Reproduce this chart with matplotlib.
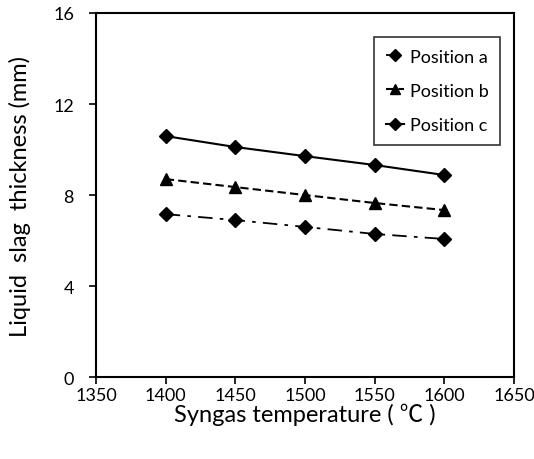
import matplotlib.pyplot as plt

plt.rcParams['font.family'] = ['Lato', 'Noto Sans CJK SC', 'DejaVu Sans']

temp = [1400, 1450, 1500, 1550, 1600]
pos_a = [7.16, 6.90, 6.60, 6.29, 6.07]
pos_b = [8.70, 8.35, 8.00, 7.65, 7.34]
pos_c = [10.59, 10.11, 9.71, 9.32, 8.88]

fig = plt.figure(figsize=(5.34, 4.60), dpi=100)
ax = fig.add_axes([0.180, 0.178, 0.7825, 0.7916])

ax.plot(temp, pos_a, color='black', linestyle=(0, (8, 4, 2, 4)), linewidth=1.3,
        marker='D', markersize=7.5, label='Position a')
ax.plot(temp, pos_b, color='black', linestyle=(0, (4, 2)), linewidth=1.5,
        marker='^', markersize=9, label='Position b')
ax.plot(temp, pos_c, color='black', linestyle='-', linewidth=1.5,
        marker='D', markersize=7.5, label='Position c')

ax.set_xlim(1350, 1650)
ax.set_ylim(0, 16)
ax.set_xticks([1350, 1400, 1450, 1500, 1550, 1600, 1650])
ax.set_yticks([0, 4, 8, 12, 16])
ax.tick_params(direction='out', length=5, width=1.2, labelsize=13, colors='black')
ax.tick_params(axis='x', pad=2)
ax.tick_params(axis='y', pad=11)
for s in ax.spines.values():
    s.set_linewidth(1.5)

ax.set_xlabel('Syngas temperature ( \u2103 )', fontsize=17, labelpad=0)
ax.set_ylabel('Liquid  slag  thickness (mm)', fontsize=17, labelpad=16)

leg = ax.legend(loc='upper right', bbox_to_anchor=(0.967, 0.934), fontsize=13,
                frameon=True, fancybox=False, edgecolor='black',
                handlelength=1.0, handletextpad=0.3, labelspacing=1.0,
                borderpad=0.65, borderaxespad=0, markerscale=0.85)
leg.get_frame().set_linewidth(1.2)

plt.savefig('out.png', dpi=100)
